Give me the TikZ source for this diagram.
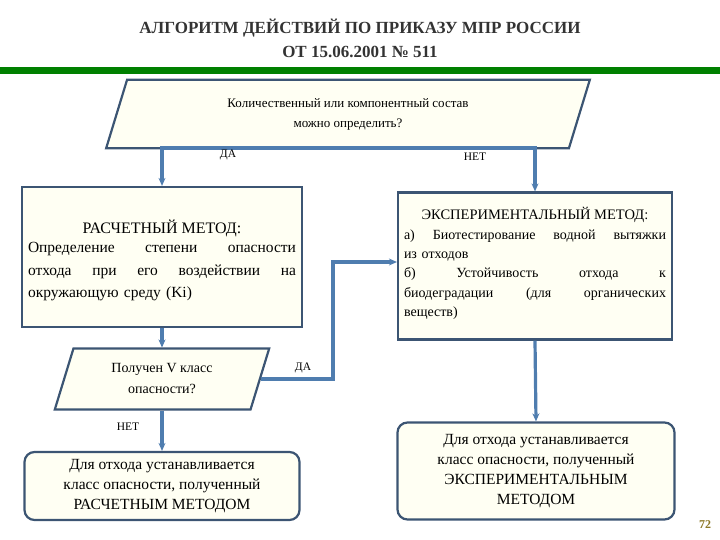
\documentclass[tikz,border=0pt]{standalone}
\usepackage{fontspec}
\setmainfont{Liberation Serif}
\usetikzlibrary{shapes.geometric,arrows.meta}
\definecolor{bord}{RGB}{60,85,115}
\definecolor{arr}{RGB}{79,125,175}
\definecolor{fillc}{RGB}{255,255,243}
\definecolor{grn}{RGB}{0,128,0}
\tikzset{
  box/.style={draw=bord,line width=2.2pt,fill=fillc,inner sep=5pt},
  rbox/.style={box,rounded corners=10pt,align=center,font=\fontsize{15.5}{20}\selectfont},
  para/.style={draw=bord,line width=2.2pt,fill=fillc,trapezium,trapezium left angle=73,trapezium right angle=107,align=center},
  conn/.style={draw=arr,line width=3.2pt,-{Stealth[length=8pt,width=7pt]}},
  lbl/.style={font=\fontsize{11.5}{12}\selectfont}
}
\begin{document}
\begin{tikzpicture}[x=1pt,y=-1pt]
\useasboundingbox (0,0) rectangle (720,540);
\node[font=\bfseries\fontsize{17}{24}\selectfont,text=black!80,align=center] (title) at (360,38) {АЛГОРИТМ ДЕЙСТВИЙ ПО ПРИКАЗУ МПР РОССИИ\\ОТ 15.06.2001 № 511};
\fill[grn] (0,67) rectangle (720,74);
\node[para,minimum width=485,minimum height=46,font=\fontsize{13}{20}\selectfont] (q1) at (348,114) {Количественный или компонентный состав\\можно определить?};
\node[box,minimum width=280,minimum height=140] (calc) at (162,257) {};
\node[font=\fontsize{16}{18}\selectfont] at (162,228) {РАСЧЕТНЫЙ МЕТОД:};
\node[font=\fontsize{15.5}{22.5}\selectfont,text width=268,anchor=north,align=left] at (162,239) {Определение\hfill степени\hfill опасности\\ отхода\hfill при\hfill его\hfill воздействии\hfill на\\ окружающую среду (Ki)};
\node[box,minimum width=274,minimum height=147] (exp) at (535,266) {};
\node[font=\fontsize{14.5}{17}\selectfont] at (535,215) {ЭКСПЕРИМЕНТАЛЬНЫЙ МЕТОД:};
\node[font=\fontsize{14}{19.3}\selectfont,text width=262,anchor=north,align=left] at (535,226) {а)\hfill Биотестирование\hfill водной\hfill вытяжки\\ из отходов\\ б)\hfill Устойчивость\hfill отхода\hfill к\\ биодеградации\hfill (для\hfill органических\\ веществ)};
\node[para,minimum width=215,minimum height=60,font=\fontsize{14}{21}\selectfont] (q2) at (162,379) {Получен V класс\\опасности?};
\node[rbox,minimum width=275,minimum height=68] (resc) at (162,486) {Для отхода устанавливается\\класс опасности, полученный\\РАСЧЕТНЫМ МЕТОДОМ};
\node[rbox,minimum width=277,minimum height=97] (rese) at (536,471) {Для отхода устанавливается\\класс опасности, полученный\\ЭКСПЕРИМЕНТАЛЬНЫМ\\МЕТОДОМ};
\coordinate (split) at (348,148);
\draw[draw=arr,line width=3.2pt] (q1.south) -- (split);
\draw[conn] (split) -| (calc.north);
\draw[conn] (split) -| (exp.north);
\node[lbl] at (228,155) {ДА};
\node[lbl] at (475,157) {НЕТ};
\draw[conn] (calc.south) -- (q2.north -| calc.south);
\coordinate (up) at (333,262);
\draw[conn] (q2.east) -| (up) -- (up -| exp.west);
\node[lbl] at (303,368) {ДА};
\draw[conn] (q2.south -| calc.south) -- (resc.north);
\node[lbl] at (128,427) {НЕТ};
\draw[conn] (exp.south) -- (rese.north);
\node[font=\bfseries\fontsize{12}{14}\selectfont,text={rgb,255:red,140;green,120;blue,40}] (pg) at (705,525) {72};
\end{tikzpicture}
\end{document}
